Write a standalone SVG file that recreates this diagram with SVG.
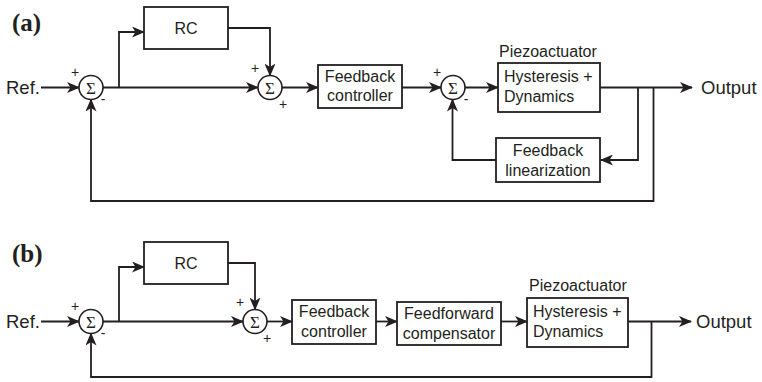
<svg xmlns="http://www.w3.org/2000/svg" width="762" height="382" viewBox="0 0 762 382">
  <style>
    .bg { fill: #ffffff; }
    .box { fill: #ffffff; stroke: #231f20; stroke-width: 1.8; }
    .sum { fill: #ffffff; stroke: #231f20; stroke-width: 1.6; }
    .wire { fill: none; stroke: #231f20; stroke-width: 1.8; }
    .arr { marker-end: url(#head); }
    .t { font-family: "Liberation Sans", Arial, sans-serif; font-size: 16px; fill: #231f20; }
    .big { font-family: "Liberation Sans", Arial, sans-serif; font-size: 18.5px; fill: #231f20; }
    .mid { text-anchor: middle; }
    .sign { font-family: "Liberation Sans", Arial, sans-serif; font-size: 14px; fill: #231f20; text-anchor: middle; }
    .sigma { font-family: "Liberation Serif", "Times New Roman", serif; font-size: 17px; fill: #231f20; text-anchor: middle; }
    .tag { font-family: "Liberation Serif", "Times New Roman", serif; font-size: 25px; font-weight: bold; fill: #231f20; }
  </style>
  <defs>
    <marker id="head" viewBox="0 0 13 11" refX="12" refY="5.5" markerWidth="13" markerHeight="11" markerUnits="userSpaceOnUse" orient="auto">
      <path d="M0,0 L13,5.5 L0,11 L3.5,5.5 Z" fill="#231f20"/>
    </marker>
  </defs>
  <rect class="bg" x="0" y="0" width="762" height="382"/>

  <!-- ===== (a) repetitive control with feedback linearization ===== -->
  <text class="tag" x="12" y="31">(a)</text>
  <g id="a-connectors">
    <line class="wire arr" x1="41" y1="87.5" x2="79" y2="87.5"/>
    <line class="wire arr" x1="103" y1="87.5" x2="258" y2="87.5"/>
    <polyline class="wire arr" points="119,87.5 119,32 144,32"/>
    <polyline class="wire arr" points="228,28 270,28 270,75.5"/>
    <line class="wire arr" x1="282" y1="87.5" x2="318" y2="87.5"/>
    <line class="wire arr" x1="402" y1="87.5" x2="441" y2="87.5"/>
    <line class="wire arr" x1="465" y1="87.5" x2="498" y2="87.5"/>
    <line class="wire arr" x1="600" y1="87.5" x2="692" y2="87.5"/>
    <polyline class="wire arr" points="638,87.5 638,160 601,160"/>
    <polyline class="wire arr" points="496,160 452.5,160 452.5,99.5"/>
    <polyline class="wire arr" points="653.5,87.5 653.5,201 91,201 91,99.5"/>
  </g>
  <g id="a-ref"><text class="big" x="6" y="94">Ref.</text></g>
  <g id="a-sum1">
    <circle class="sum" cx="91" cy="87.5" r="12"/>
    <text class="sigma" x="91" y="93.5">Σ</text>
    <text class="sign" x="75" y="77">+</text>
    <text class="sign" x="103" y="104">-</text>
  </g>
  <g id="a-rc">
    <rect class="box" x="144" y="7" width="84" height="42"/>
    <text class="t mid" x="186" y="34">RC</text>
  </g>
  <g id="a-sum2">
    <circle class="sum" cx="270" cy="87.5" r="12"/>
    <text class="sigma" x="270" y="93.5">Σ</text>
    <text class="sign" x="255" y="73">+</text>
    <text class="sign" x="283" y="109">+</text>
  </g>
  <g id="a-fbctrl">
    <rect class="box" x="318" y="65" width="84" height="43"/>
    <text class="t mid" x="360" y="82">Feedback</text>
    <text class="t mid" x="360" y="101">controller</text>
  </g>
  <g id="a-sum3">
    <circle class="sum" cx="453" cy="87.5" r="12"/>
    <text class="sigma" x="453" y="93.5">Σ</text>
    <text class="sign" x="437" y="77">+</text>
    <text class="sign" x="466" y="104">-</text>
  </g>
  <g id="a-piezo">
    <text class="t" x="499" y="57">Piezoactuator</text>
    <rect class="box" x="498" y="63" width="102" height="49"/>
    <text class="t" x="504" y="82">Hysteresis +</text>
    <text class="t" x="504" y="102">Dynamics</text>
  </g>
  <g id="a-fblin">
    <rect class="box" x="496" y="138" width="104" height="44"/>
    <text class="t mid" x="548" y="156">Feedback</text>
    <text class="t mid" x="548" y="176">linearization</text>
  </g>
  <g id="a-output"><text class="big" x="701" y="94">Output</text></g>

  <!-- ===== (b) repetitive control with feedforward compensation ===== -->
  <text class="tag" x="12" y="262">(b)</text>
  <g id="b-connectors">
    <line class="wire arr" x1="41" y1="321.5" x2="79" y2="321.5"/>
    <line class="wire arr" x1="103" y1="321.5" x2="243" y2="321.5"/>
    <polyline class="wire arr" points="119,321.5 119,267 144,267"/>
    <polyline class="wire arr" points="228,263 255,263 255,309.5"/>
    <line class="wire arr" x1="267" y1="321.5" x2="292" y2="321.5"/>
    <line class="wire arr" x1="376" y1="321.5" x2="397" y2="321.5"/>
    <line class="wire arr" x1="501" y1="321.5" x2="527" y2="321.5"/>
    <line class="wire arr" x1="628" y1="321.5" x2="691" y2="321.5"/>
    <polyline class="wire arr" points="651.5,321.5 651.5,377 91,377 91,333.5"/>
  </g>
  <g id="b-ref"><text class="big" x="6" y="328">Ref.</text></g>
  <g id="b-sum1">
    <circle class="sum" cx="91" cy="321.5" r="12"/>
    <text class="sigma" x="91" y="327.5">Σ</text>
    <text class="sign" x="75" y="311">+</text>
    <text class="sign" x="103" y="338">-</text>
  </g>
  <g id="b-rc">
    <rect class="box" x="144" y="242" width="84" height="42"/>
    <text class="t mid" x="186" y="269">RC</text>
  </g>
  <g id="b-sum2">
    <circle class="sum" cx="255" cy="321.5" r="12"/>
    <text class="sigma" x="255" y="327.5">Σ</text>
    <text class="sign" x="240" y="307">+</text>
    <text class="sign" x="267" y="343">+</text>
  </g>
  <g id="b-fbctrl">
    <rect class="box" x="292" y="300" width="84" height="44"/>
    <text class="t mid" x="334" y="317">Feedback</text>
    <text class="t mid" x="334" y="337">controller</text>
  </g>
  <g id="b-ffcomp">
    <rect class="box" x="397" y="302" width="104" height="43"/>
    <text class="t mid" x="449" y="319">Feedforward</text>
    <text class="t mid" x="449" y="339">compensator</text>
  </g>
  <g id="b-piezo">
    <text class="t" x="529" y="291">Piezoactuator</text>
    <rect class="box" x="527" y="298" width="101" height="49"/>
    <text class="t" x="533" y="317">Hysteresis +</text>
    <text class="t" x="533" y="337">Dynamics</text>
  </g>
  <g id="b-output"><text class="big" x="696" y="328">Output</text></g>
</svg>
